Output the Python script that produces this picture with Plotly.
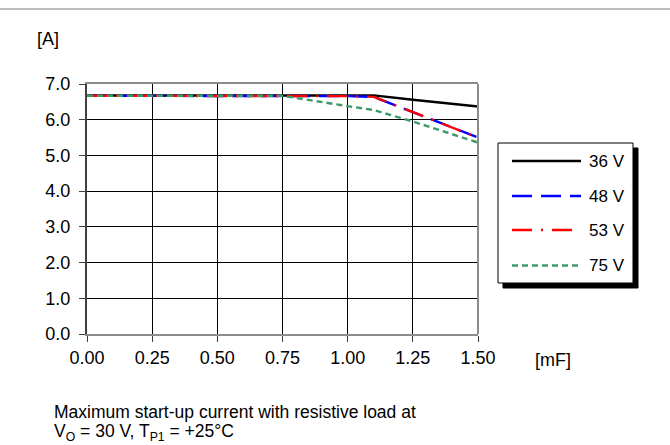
import plotly.graph_objects as go

# ---- data ----
cap_mF = [0.0, 0.25, 0.50, 0.75, 1.00, 1.10, 1.25, 1.50]
i_36V = [6.68, 6.68, 6.68, 6.68, 6.68, 6.68, 6.56, 6.37]
i_48V = [6.67, 6.67, 6.67, 6.67, 6.66, 6.64, 6.21, 5.50]
i_53V = [6.67, 6.67, 6.67, 6.67, 6.66, 6.64, 6.21, 5.50]
i_75V = [6.67, 6.67, 6.67, 6.67, 6.38, 6.27, 5.95, 5.36]
series_names = ["36 V", "48 V", "53 V", "75 V"]
x_ticks = [0.0, 0.25, 0.5, 0.75, 1.0, 1.25, 1.5]
y_ticks = [0, 1, 2, 3, 4, 5, 6, 7]

colors = ["#000000", "#0000ff", "#ff0000", "#3c9a6a"]
dashes = ["solid", "20px,9px", "20px,9px,2px,9px", "6px,4px"]
values = [i_36V, i_48V, i_53V, i_75V]

FONT = "Liberation Sans, Arial, sans-serif"
W, H = 670, 445
# plot area in window pixels
L, R, T, B = 87, 478, 84, 334


def px(xp):
    return (xp - L) / (R - L)


def py(yp):
    return (B - yp) / (B - T)


fig = go.Figure()
for name, vals, c, d in zip(series_names, values, colors, dashes):
    fig.add_trace(go.Scatter(x=cap_mF, y=vals, mode="lines", name=name,
                             line=dict(color=c, width=2.4, dash=d),
                             showlegend=False))

shapes = []
# top grey rule
shapes.append(dict(type="line", xref="paper", yref="paper",
                   x0=px(0), x1=px(W), y0=py(9), y1=py(9),
                   line=dict(color="#bdbdbd", width=2)))
# right frame border
shapes.append(dict(type="line", xref="paper", yref="paper",
                   x0=1, x1=1, y0=0, y1=1,
                   line=dict(color="#8c8c8c", width=2)))
# legend shadow and box
shapes.append(dict(type="rect", xref="paper", yref="paper",
                   x0=px(503), x1=px(638), y0=py(148), y1=py(288),
                   fillcolor="#000000", line=dict(color="#000000", width=1)))
shapes.append(dict(type="rect", xref="paper", yref="paper",
                   x0=px(498), x1=px(633), y0=py(143), y1=py(283),
                   fillcolor="#ffffff", line=dict(color="#000000", width=1)))
rows = [161, 196, 230, 265.5]
annotations = []
for name, c, d, ry in zip(series_names, colors, dashes, rows):
    shapes.append(dict(type="line", xref="paper", yref="paper",
                       x0=px(512), x1=px(581), y0=py(ry), y1=py(ry),
                       line=dict(color=c, width=2.4, dash=d)))
    annotations.append(dict(text=name, xref="paper", yref="paper",
                            x=px(587), y=py(ry), xanchor="left", yanchor="middle",
                            showarrow=False, font=dict(size=17, family=FONT, color="black")))

annotations.append(dict(text="[A]", xref="paper", yref="paper",
                        x=px(48), y=py(38.5), xanchor="center", yanchor="middle",
                        showarrow=False, font=dict(size=18, family=FONT, color="black")))
annotations.append(dict(text="[mF]", xref="paper", yref="paper",
                        x=px(533), y=py(360), xanchor="left", yanchor="middle",
                        showarrow=False, font=dict(size=18, family=FONT, color="black")))
annotations.append(dict(text="Maximum start-up current with resistive load at",
                        xref="paper", yref="paper",
                        x=px(52), y=py(412), xanchor="left", yanchor="middle",
                        showarrow=False, font=dict(size=17.5, family=FONT, color="black")))
annotations.append(dict(text="V<sub>O</sub> = 30 V, T<sub>P1</sub> = +25°C",
                        xref="paper", yref="paper",
                        x=px(52), y=py(432), xanchor="left", yanchor="middle",
                        showarrow=False, font=dict(size=17.5, family=FONT, color="black")))

fig.update_layout(
    width=W, height=H,
    margin=dict(l=L, r=W - R, t=T, b=H - B, pad=0),
    paper_bgcolor="white", plot_bgcolor="white",
    font=dict(family=FONT, size=18, color="black"),
    shapes=shapes, annotations=annotations,
    xaxis=dict(range=[0, 1.5], tickvals=x_ticks, tickformat=".2f",
               showgrid=True, gridcolor="#000000", gridwidth=1,
               showline=True, linecolor="#8c8c8c", linewidth=2, mirror=True,
               ticks="outside", ticklen=6, tickcolor="#404040", tickwidth=1,
               zeroline=False, tickfont=dict(size=18, family=FONT, color="black")),
    yaxis=dict(range=[0, 7], tickvals=y_ticks, tickformat=".1f",
               showgrid=True, gridcolor="#000000", gridwidth=1,
               showline=True, linecolor="#404040", linewidth=2,
               ticks="outside", ticklen=6, tickcolor="#404040", tickwidth=1,
               ticklabelstandoff=5,
               zeroline=False, tickfont=dict(size=18, family=FONT, color="black")),
)

fig.write_html("out.html",
               config={"displayModeBar": False},
               post_script="document.body.style.margin='0';document.body.style.overflow='hidden';")
